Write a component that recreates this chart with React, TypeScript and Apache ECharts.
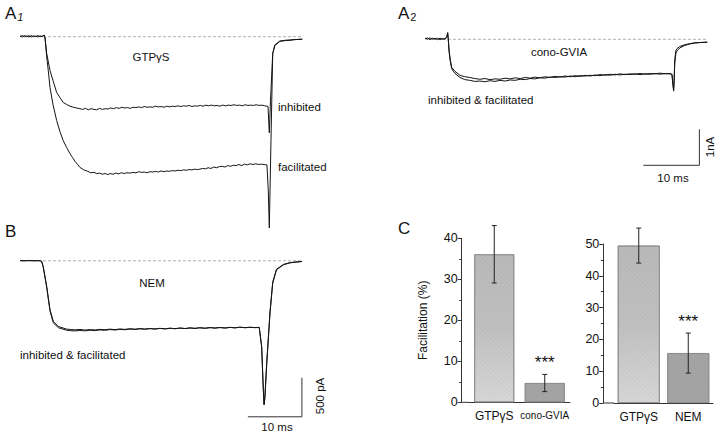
import React, { useEffect, useRef } from "react";
import * as echarts from "echarts";

const FONT = '"Liberation Sans", Arial, Helvetica, sans-serif';
const NARROW = '"Liberation Sans Narrow", "Liberation Sans", Arial, sans-serif';

// ---------- Panel A1 (GTPγS), time in ms, current in nA ----------
const a1Inhibited: number[][] = [
  [0, 0.02], [0.4, -0.01], [0.8, 0.03], [1.2, 0.0], [1.6, 0.03], [2.0, -0.01], [2.4, 0.02], [2.8, 0.0], [3.2, 0.03], [3.6, 0.0], [4.0, 0.02], [4.3, 0.04], [4.46, -0.02],
  [4.77, -0.47], [5.36, -0.94], [5.9, -1.22], [6.55, -1.55], [7.14, -1.69], [7.73, -1.83], [8.3, -1.88], [8.93, -1.93], [9.5, -1.96], [10.1, -1.98], [10.7, -2.0], [11.2, -2.02], [11.7, -1.99], [12.2, -2.03], [12.7, -2.0], [13.2, -2.02], [13.7, -2.03], [14.2, -1.99], [14.7, -2.02], [15.2, -2.0], [15.7, -2.01], [16.2, -1.98], [16.7, -2.0], [17.2, -1.97], [17.7, -1.99], [18.2, -1.96], [18.7, -1.98], [19.2, -1.97], [19.7, -1.99], [20.2, -1.96], [20.7, -1.97], [21.2, -1.95], [21.7, -1.97], [22.2, -1.94], [22.7, -1.96], [23.2, -1.95], [23.7, -1.96], [24.2, -1.93], [24.7, -1.95], [25.2, -1.94], [25.7, -1.96], [26.2, -1.93], [26.7, -1.95], [27.2, -1.93], [27.7, -1.94], [28.2, -1.92], [28.7, -1.94], [29.2, -1.92], [29.7, -1.93], [30.2, -1.91], [30.7, -1.94], [31.2, -1.92], [31.7, -1.93], [32.2, -1.91], [32.7, -1.93], [33.2, -1.9], [33.7, -1.92], [34.2, -1.9], [34.7, -1.92], [35.2, -1.91], [35.7, -1.93], [36.2, -1.9], [36.7, -1.92], [37.2, -1.9], [37.7, -1.91], [38.2, -1.89], [38.7, -1.91], [39.2, -1.9], [39.7, -1.92], [40.2, -1.89], [40.7, -1.91], [41.2, -1.9], [41.7, -1.91], [42.2, -1.89], [42.7, -1.91], [43.2, -1.9], [43.7, -1.92], [44.1, -1.93], [44.29, -1.94],
  [44.52, -2.67], [44.73, -1.78], [45.13, -0.47], [45.5, -0.25], [46.4, -0.13], [47.3, -0.11], [48.2, -0.1], [49.1, -0.08], [50.4, -0.07],
];
const a1Facilitated: number[][] = [
  [0, 0.0], [0.4, 0.03], [0.8, 0.0], [1.2, 0.02], [1.6, -0.01], [2.0, 0.03], [2.4, 0.0], [2.8, 0.02], [3.2, -0.01], [3.6, 0.02], [4.0, 0.0], [4.3, 0.05], [4.46, -0.02],
  [4.77, -0.56], [5.05, -0.94], [5.36, -1.41], [5.9, -1.89], [6.55, -2.33], [7.14, -2.64], [7.73, -2.89], [8.34, -3.08], [8.93, -3.25], [9.4, -3.36], [9.82, -3.46], [10.3, -3.55], [10.7, -3.63], [11.4, -3.7], [12.1, -3.74], [12.6, -3.78], [13.2, -3.77], [13.7, -3.8], [14.2, -3.79], [14.7, -3.82], [15.2, -3.8], [15.7, -3.83], [16.1, -3.8], [16.6, -3.82], [17.1, -3.79], [17.6, -3.81], [18.1, -3.78], [18.6, -3.8], [19.1, -3.78], [19.6, -3.79], [20.2, -3.77], [20.7, -3.78], [21.2, -3.75], [21.7, -3.77], [22.2, -3.76], [22.7, -3.78], [23.2, -3.75], [23.7, -3.76], [24.2, -3.74], [24.7, -3.76], [25.2, -3.73], [25.7, -3.75], [26.2, -3.73], [26.7, -3.74], [27.2, -3.72], [27.7, -3.73], [28.2, -3.71], [28.7, -3.72], [29.2, -3.7], [29.7, -3.71], [30.2, -3.69], [30.7, -3.7], [31.2, -3.68], [31.7, -3.69], [32.1, -3.68], [32.6, -3.66], [33.1, -3.67], [33.6, -3.64], [34.1, -3.66], [34.6, -3.62], [35.1, -3.64], [35.6, -3.61], [36.1, -3.6], [36.6, -3.62], [37.1, -3.58], [37.6, -3.6], [38.1, -3.57], [38.6, -3.58], [39.1, -3.55], [39.6, -3.58], [40.1, -3.54], [40.6, -3.56], [41.1, -3.53], [41.6, -3.55], [42.1, -3.53], [42.6, -3.55], [43.1, -3.54], [43.6, -3.55], [44.1, -3.56],
  [44.34, -4.28], [44.52, -5.31], [44.82, -2.89], [45.13, -0.47], [45.5, -0.23], [46.4, -0.12], [47.3, -0.1], [48.2, -0.09], [49.1, -0.08], [50.4, -0.07],
];

// ---------- Panel A2 (cono-GVIA), ms / nA ----------
const a2Inhibited: number[][] = [
  [0, 0.01], [0.45, 0.04], [0.9, -0.01], [1.35, 0.03], [1.8, 0.0], [2.25, 0.03], [2.7, -0.01], [3.15, 0.02], [3.6, 0.0], [3.9, 0.08], [4.05, 0.19], [4.15, 0.02], [4.3, -0.3], [4.5, -0.55], [4.77, -0.78], [5.36, -0.89], [6.25, -1.0], [7.1, -1.04], [8.0, -1.06], [8.9, -1.09], [9.8, -1.11], [10.7, -1.09], [11.6, -1.12], [12.5, -1.1], [13.4, -1.11], [14.3, -1.08], [15.2, -1.1], [16.1, -1.07], [17.0, -1.09], [17.9, -1.06], [18.75, -1.08], [19.6, -1.05], [20.5, -1.07], [21.4, -1.04], [22.3, -1.06], [23.2, -1.03], [24.1, -1.05], [25.0, -1.02], [25.9, -1.04], [26.8, -1.01], [27.7, -1.03], [28.6, -1.0], [29.5, -1.02], [30.4, -0.99], [31.25, -1.01], [32.1, -0.98], [33.0, -1.0], [33.9, -0.97], [34.8, -0.99], [35.7, -0.97], [36.6, -0.98], [37.5, -0.96], [38.4, -0.98], [39.3, -0.96], [40.2, -0.97], [41.1, -0.95], [42.0, -0.97], [42.9, -0.95], [43.75, -0.96], [44.1, -0.98], [44.3, -1.28], [44.4, -1.44], [44.5, -1.14], [44.6, -0.58], [44.8, -0.31], [45.0, -0.26], [45.5, -0.2], [46.4, -0.15], [47.3, -0.12], [48.2, -0.1], [49.1, -0.09], [50.4, -0.08],
];
const a2Facilitated: number[][] = [
  [0, 0.03], [0.45, 0.0], [0.9, 0.04], [1.35, 0.0], [1.8, 0.03], [2.25, -0.01], [2.7, 0.03], [3.15, 0.0], [3.6, 0.02], [3.9, 0.06], [4.05, 0.17], [4.15, 0.0], [4.3, -0.35], [4.5, -0.6], [4.77, -0.82], [5.36, -0.95], [6.25, -1.06], [7.1, -1.12], [8.0, -1.14], [8.9, -1.17], [9.8, -1.16], [10.7, -1.18], [11.6, -1.15], [12.5, -1.17], [13.4, -1.14], [14.3, -1.16], [15.2, -1.13], [16.1, -1.14], [17.0, -1.11], [17.9, -1.12], [18.75, -1.09], [19.6, -1.1], [20.5, -1.07], [21.4, -1.08], [22.3, -1.05], [23.2, -1.06], [24.1, -1.04], [25.0, -1.05], [25.9, -1.02], [26.8, -1.04], [27.7, -1.01], [28.6, -1.02], [29.5, -1.0], [30.4, -1.01], [31.25, -0.98], [32.1, -1.0], [33.0, -0.97], [33.9, -0.99], [34.8, -0.96], [35.7, -0.98], [36.6, -0.96], [37.5, -0.97], [38.4, -0.95], [39.3, -0.97], [40.2, -0.95], [41.1, -0.96], [42.0, -0.94], [42.9, -0.96], [43.75, -0.95], [44.1, -0.97], [44.3, -1.3], [44.4, -1.4], [44.5, -1.1], [44.6, -0.66], [44.8, -0.4], [45.0, -0.32], [45.5, -0.24], [46.4, -0.17], [47.3, -0.13], [48.2, -0.1], [49.1, -0.09], [50.4, -0.08],
];

// ---------- Panel B (NEM), ms / pA ----------
const bInhibited: number[][] = [
  [0, 6], [0.5, -3], [0.9, 4], [1.4, 0], [1.85, 6], [2.3, -2], [2.8, 3], [3.2, -1], [3.7, 2], [4.0, -5], [4.3, -73], [4.95, -329], [5.56, -628], [6.17, -778], [7.1, -842], [8.65, -876], [9.3, -880], [10.2, -885], [11.1, -880], [12.0, -888], [13.0, -882], [13.9, -887], [14.8, -879], [15.7, -884], [16.7, -876], [17.6, -882], [18.5, -874], [19.4, -879], [20.4, -871], [21.3, -877], [22.2, -869], [23.1, -875], [24.1, -868], [25.0, -874], [25.9, -866], [26.9, -872], [27.8, -864], [28.7, -870], [29.6, -862], [30.6, -868], [31.5, -860], [32.4, -866], [33.3, -858], [34.3, -864], [35.2, -856], [36.1, -862], [37.0, -855], [38.0, -861], [38.9, -853], [39.8, -859], [40.7, -851], [41.7, -857], [42.6, -852], [43.5, -856], [44.3, -853],
  [44.75, -1098], [45.06, -1654], [45.2, -1846], [45.35, -1760], [45.7, -1311], [46.3, -671], [46.8, -286], [47.5, -115], [48.8, -51], [50.0, -26], [50.9, -19], [52.2, -9],
];
const bFacilitated: number[][] = [
  [0, 0], [0.5, 5], [0.9, -2], [1.4, 4], [1.85, -1], [2.3, 5], [2.8, -2], [3.2, 4], [3.7, 0], [4.0, -8], [4.3, -80], [4.95, -345], [5.56, -645], [6.17, -795], [7.1, -858], [8.65, -890], [9.3, -896], [10.2, -899], [11.1, -893], [12.0, -898], [13.0, -890], [13.9, -895], [14.8, -886], [15.7, -891], [16.7, -882], [17.6, -887], [18.5, -879], [19.4, -884], [20.4, -875], [21.3, -880], [22.2, -872], [23.1, -877], [24.1, -870], [25.0, -875], [25.9, -867], [26.9, -873], [27.8, -865], [28.7, -871], [29.6, -863], [30.6, -869], [31.5, -861], [32.4, -867], [33.3, -859], [34.3, -865], [35.2, -857], [36.1, -863], [37.0, -856], [38.0, -862], [38.9, -854], [39.8, -860], [40.7, -852], [41.7, -858], [42.6, -853], [43.5, -857], [44.3, -855],
  [44.75, -1105], [45.06, -1660], [45.2, -1840], [45.35, -1740], [45.7, -1290], [46.3, -650], [46.8, -270], [47.5, -108], [48.8, -46], [50.0, -24], [50.9, -16], [52.2, -8],
];

// baselines (dashed) and scale bars, in data units
const a1Baseline = [[4.1, 0], [50.4, 0]];
const a2Baseline = [[4.1, 0], [50.4, 0]];
const bBaseline = [[4.26, 0], [52.2, 0]];
const a2ScaleBar = [[39, -3.5], [49, -3.5], [49, -2.5]]; // 10 ms, 1 nA
const bScaleBar = [[42.2, -2000], [52.2, -2000], [52.2, -1500]]; // 10 ms, 500 pA

// ---------- Panel C bar charts ----------
const cLeftCategories = ["GTPγS", "cono-GVIA"];
const cLeftValues = [36.1, 4.7];
const cLeftErrors = [7.0, 2.1];
const cLeftSignificant = [0, 1];
const cRightCategories = ["GTPγS", "NEM"];
const cRightValues = [49.5, 15.7];
const cRightErrors = [5.5, 6.3];
const cRightSignificant = [0, 1];
const cLeftTicks = { min: 0, max: 40, interval: 10 };
const cRightTicks = { min: 0, max: 50, interval: 10 };

const traceStyle = { width: 1, color: "#141414" };

function traceSeries(data: number[][], idx: number) {
  return {
    type: "line",
    xAxisIndex: idx,
    yAxisIndex: idx,
    data,
    symbol: "none",
    showSymbol: false,
    clip: false,
    lineStyle: traceStyle,
    silent: true,
  };
}
function dashedSeries(data: number[][], idx: number) {
  return {
    type: "line",
    xAxisIndex: idx,
    yAxisIndex: idx,
    data,
    symbol: "none",
    clip: false,
    lineStyle: { width: 0.8, color: "#9a9a9a", type: [3, 2] },
    silent: true,
    z: 1,
  };
}
function scaleSeries(data: number[][], idx: number) {
  return {
    type: "line",
    xAxisIndex: idx,
    yAxisIndex: idx,
    data,
    symbol: "none",
    clip: false,
    lineStyle: { width: 1, color: "#333" },
    silent: true,
  };
}

function barGradient(light: boolean) {
  return light
    ? new echarts.graphic.LinearGradient(0, 0, 0, 1, [
        { offset: 0, color: "#bababa" },
        { offset: 0.5, color: "#c1c1c1" },
        { offset: 1, color: "#d8d8d8" },
      ])
    : "#a5a5a5";
}

function barSeries(values: number[], idx: number, width: number) {
  return {
    type: "bar",
    xAxisIndex: idx,
    yAxisIndex: idx,
    barWidth: width,
    data: values.map((v, i) => ({
      value: v,
      itemStyle: { color: barGradient(i === 0) },
    })),
    itemStyle: {
      borderColor: "#8a8a8a",
      borderWidth: 0.8,
      decal: {
        symbol: "rect",
        symbolSize: 1,
        color: "rgba(0,0,0,0.04)",
        dashArrayX: [1, 0],
        dashArrayY: [1, 2],
        rotation: Math.PI / 4,
      },
    },
    silent: true,
  };
}

function errorSeries(values: number[], errors: number[], sig: number[], idx: number) {
  return {
    type: "custom",
    xAxisIndex: idx,
    yAxisIndex: idx,
    clip: false,
    silent: true,
    z: 5,
    data: values.map((v, i) => [i, v - errors[i], v + errors[i], sig[i]]),
    encode: { x: 0, y: [1, 2] },
    renderItem: (params: any, api: any) => {
      const i = api.value(0);
      const lo = api.coord([i, api.value(1)]);
      const hi = api.coord([i, api.value(2)]);
      const x = lo[0];
      const stroke = { stroke: "#222", lineWidth: 1 };
      const children: any[] = [
        { type: "line", shape: { x1: x, y1: lo[1], x2: x, y2: hi[1] }, style: stroke },
        { type: "line", shape: { x1: x - 2.5, y1: lo[1], x2: x + 2.5, y2: lo[1] }, style: stroke },
        { type: "line", shape: { x1: x - 2.5, y1: hi[1], x2: x + 2.5, y2: hi[1] }, style: stroke },
      ];
      if (api.value(3) === 1) {
        children.push({
          type: "text",
          x: x,
          y: hi[1] - 12,
          style: {
            text: "***",
            fill: "#111",
            fontSize: 17,
            fontFamily: FONT,
            textAlign: "center",
            textVerticalAlign: "middle",
          },
        });
      }
      return { type: "group", children };
    },
  };
}

function hiddenAxis(min: number, max: number, grid: number) {
  return { type: "value", show: false, min, max, gridIndex: grid, splitLine: { show: false } };
}

function cValueAxis(t: { min: number; max: number; interval: number }, grid: number, offset: number, name?: string) {
  return {
    type: "value",
    gridIndex: grid,
    min: t.min,
    max: t.max,
    interval: t.interval,
    offset,
    name: name || "",
    nameLocation: "middle",
    nameRotate: 90,
    nameGap: 33,
    nameTextStyle: { fontSize: 12, fontFamily: FONT, color: "#111" },
    axisLine: { show: true, lineStyle: { color: "#333", width: 1 } },
    axisTick: { show: true, length: 4, inside: false, lineStyle: { color: "#333" } },
    minorTick: { show: true, splitNumber: 2, length: 2.5, lineStyle: { color: "#333" } },
    axisLabel: { fontSize: 12.5, fontFamily: FONT, color: "#111", margin: 4 },
    splitLine: { show: false },
    minorSplitLine: { show: false },
  };
}

function cCategoryAxis(cats: string[], grid: number) {
  return {
    type: "category",
    gridIndex: grid,
    data: cats.map((c) =>
      c === "cono-GVIA"
        ? { value: c, textStyle: { fontFamily: NARROW, fontSize: 10 } }
        : { value: c }
    ),
    axisLine: { show: true, lineStyle: { color: "#333", width: 1 } },
    axisTick: { show: false },
    axisLabel: { fontSize: 12, fontFamily: FONT, color: "#111", margin: 8, interval: 0 },
    splitLine: { show: false },
  };
}

function label(text: string, x: number, y: number, opts: any = {}) {
  return {
    type: "text",
    x,
    y,
    rotation: opts.rotation || 0,
    style: {
      text,
      fill: "#111",
      fontSize: opts.fontSize || 11.5,
      fontFamily: FONT,
      fontWeight: opts.fontWeight || "normal",
      textAlign: opts.align || "left",
      textVerticalAlign: "middle",
      rich: opts.rich,
    },
  };
}

const panelRich = {
  a: { fontSize: 17, fontFamily: FONT, fill: "#111", color: "#111" },
  s: { fontSize: 11, fontFamily: FONT, fontStyle: "italic", color: "#111", padding: [7, 0, 0, 1] },
  n: { fontSize: 11, fontFamily: FONT, color: "#111", padding: [7, 0, 0, 1] },
};

export default function App() {
  const ref = useRef<HTMLDivElement>(null);
  useEffect(() => {
    document.body.style.margin = "0";
    if (!ref.current) return;
    const chart = echarts.init(ref.current, undefined, { renderer: "svg" });
    const option: any = {
      animation: false,
      backgroundColor: "#ffffff",
      grid: [
        { left: 20, top: 18.7, width: 282, height: 216, outerBoundsMode: "none" },
        { left: 425, top: 21.3, width: 282, height: 151.2, outerBoundsMode: "none" },
        { left: 20, top: 253, width: 282, height: 171.6, outerBoundsMode: "none" },
        { left: 469, top: 238.3, width: 101, height: 164, outerBoundsMode: "none" },
        { left: 614, top: 244, width: 99, height: 159, outerBoundsMode: "none" },
      ],
      xAxis: [
        hiddenAxis(0, 50.36, 0),
        hiddenAxis(0, 50.36, 1),
        hiddenAxis(0, 52.22, 2),
        cCategoryAxis(cLeftCategories, 3),
        cCategoryAxis(cRightCategories, 4),
      ],
      yAxis: [
        hiddenAxis(-5.5, 0.5, 0),
        hiddenAxis(-3.7, 0.5, 1),
        hiddenAxis(-2100, 100, 2),
        cValueAxis(cLeftTicks, 3, 7.3, "Facilitation (%)"),
        cValueAxis(cRightTicks, 4, 10.7),
      ],
      series: [
        dashedSeries(a1Baseline, 0),
        traceSeries(a1Inhibited, 0),
        traceSeries(a1Facilitated, 0),
        dashedSeries(a2Baseline, 1),
        traceSeries(a2Inhibited, 1),
        traceSeries(a2Facilitated, 1),
        scaleSeries(a2ScaleBar, 1),
        dashedSeries(bBaseline, 2),
        traceSeries(bInhibited, 2),
        traceSeries(bFacilitated, 2),
        scaleSeries(bScaleBar, 2),
        barSeries(cLeftValues, 3, 40),
        errorSeries(cLeftValues, cLeftErrors, cLeftSignificant, 3),
        barSeries(cRightValues, 4, 42),
        errorSeries(cRightValues, cRightErrors, cRightSignificant, 4),
      ],
      graphic: [
        label("{a|A}{s|1}", 5, 13, { rich: panelRich }),
        label("{a|A}{n|2}", 398, 13, { rich: panelRich }),
        label("B", 5, 231, { fontSize: 17 }),
        label("C", 398, 228, { fontSize: 17 }),
        label("GTPγS", 151, 57, { align: "center" }),
        label("inhibited", 278, 107),
        label("facilitated", 278, 167),
        label("cono-GVIA", 559, 52, { align: "center" }),
        label("inhibited & facilitated", 428, 100),
        label("1nA", 710, 147, { align: "center", rotation: Math.PI / 2 }),
        label("10 ms", 673, 178, { align: "center" }),
        label("NEM", 152, 283, { align: "center" }),
        label("inhibited & facilitated", 20, 355),
        label("500 pA", 320, 396, { align: "center", rotation: Math.PI / 2 }),
        label("10 ms", 277, 427, { align: "center" }),
        {
          type: "line",
          shape: { x1: 461.7, y1: 402.3, x2: 469, y2: 402.3 },
          style: { stroke: "#333", lineWidth: 1 },
        },
        {
          type: "line",
          shape: { x1: 603.3, y1: 403, x2: 614, y2: 403 },
          style: { stroke: "#333", lineWidth: 1 },
        },
      ],
    };
    chart.setOption(option);
    return () => chart.dispose();
  }, []);
  return <div ref={ref} style={{ width: 720, height: 435 }} />;
}
